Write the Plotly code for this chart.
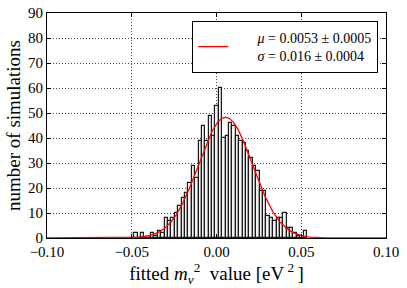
import numpy as np
import plotly.graph_objects as go

# ---- data ----
bin_start = -0.0486          # left edge of first histogram bin
bin_width = 0.002            # histogram bin width
counts = [2, 0, 2, 0, 0, 2, 1, 3, 2, 8, 7, 8, 10, 13, 16, 18, 22, 29, 24, 39,
          45, 39, 49, 41, 53, 60, 40, 41, 46, 45, 41, 39, 38, 35, 32, 29, 27,
          19, 19, 9, 8, 7, 8, 8, 10, 4, 4, 2, 1, 0, 3]
fit_mu = 0.0053
fit_sigma = 0.016
fit_amplitude = 48.3
x_ticks = [-0.10, -0.05, 0.00, 0.05, 0.10]
y_ticks = list(range(0, 91, 10))
PAD = "\u00a0" * 7
legend_label = (PAD + "<i>μ</i> = 0.0053 ± 0.0005<br>" +
                PAD + "<i>σ</i> = 0.016 ± 0.0004")

centers = [bin_start + bin_width * (i + 0.5) for i in range(len(counts))]
xf = np.linspace(-0.1, 0.1, 801)
yf = fit_amplitude * np.exp(-0.5 * ((xf - fit_mu) / fit_sigma) ** 2)

FONT = "Liberation Serif"

fig = go.Figure()
fig.add_trace(go.Bar(
    x=centers, y=counts, width=bin_width,
    marker=dict(color="#f2f2f2", line=dict(color="#1a1a1a", width=1.2)),
    showlegend=False, hoverinfo="skip",
))
fig.add_trace(go.Scatter(
    x=xf, y=yf, mode="lines", line=dict(color="#ff0000", width=1.3),
    name=legend_label, hoverinfo="skip",
))

axis_common = dict(
    showline=True, linecolor="black", linewidth=1, mirror="ticks",
    ticks="inside", ticklen=4, tickcolor="black",
    showgrid=True, gridcolor="rgba(0,0,0,0.7)", griddash="1px,2px", gridwidth=1,
    zeroline=False, automargin=False,
    tickfont=dict(family=FONT, size=15, color="black"),
)

fig.update_layout(
    width=407, height=288,
    margin=dict(l=47, r=21, t=13, b=50, autoexpand=False),
    paper_bgcolor="white", plot_bgcolor="white",
    bargap=0,
    font=dict(family=FONT, color="black"),
    xaxis=dict(range=[-0.1, 0.1], tickvals=x_ticks, tickformat=".2f",
               title=dict(text="fitted <i>m</i><sub><i>ν</i></sub><sup>2</sup>  value [eV<sup> 2 </sup>]",
                          font=dict(family=FONT, size=19), standoff=2),
               **axis_common),
    yaxis=dict(range=[0, 90], tickvals=y_ticks,
               title=dict(text="number of simulations",
                          font=dict(family=FONT, size=19), standoff=2),
               **axis_common),
    legend=dict(x=0.428, y=0.965, xanchor="left", yanchor="top",
                bgcolor="white", bordercolor="black", borderwidth=1,
                font=dict(family=FONT, size=14, color="black"),
                valign="middle", itemwidth=30),
)

fig.write_html("out.html",
               config={"displayModeBar": False},
               post_script="document.body.style.margin='0px';"
                           "document.body.style.padding='0px';")
